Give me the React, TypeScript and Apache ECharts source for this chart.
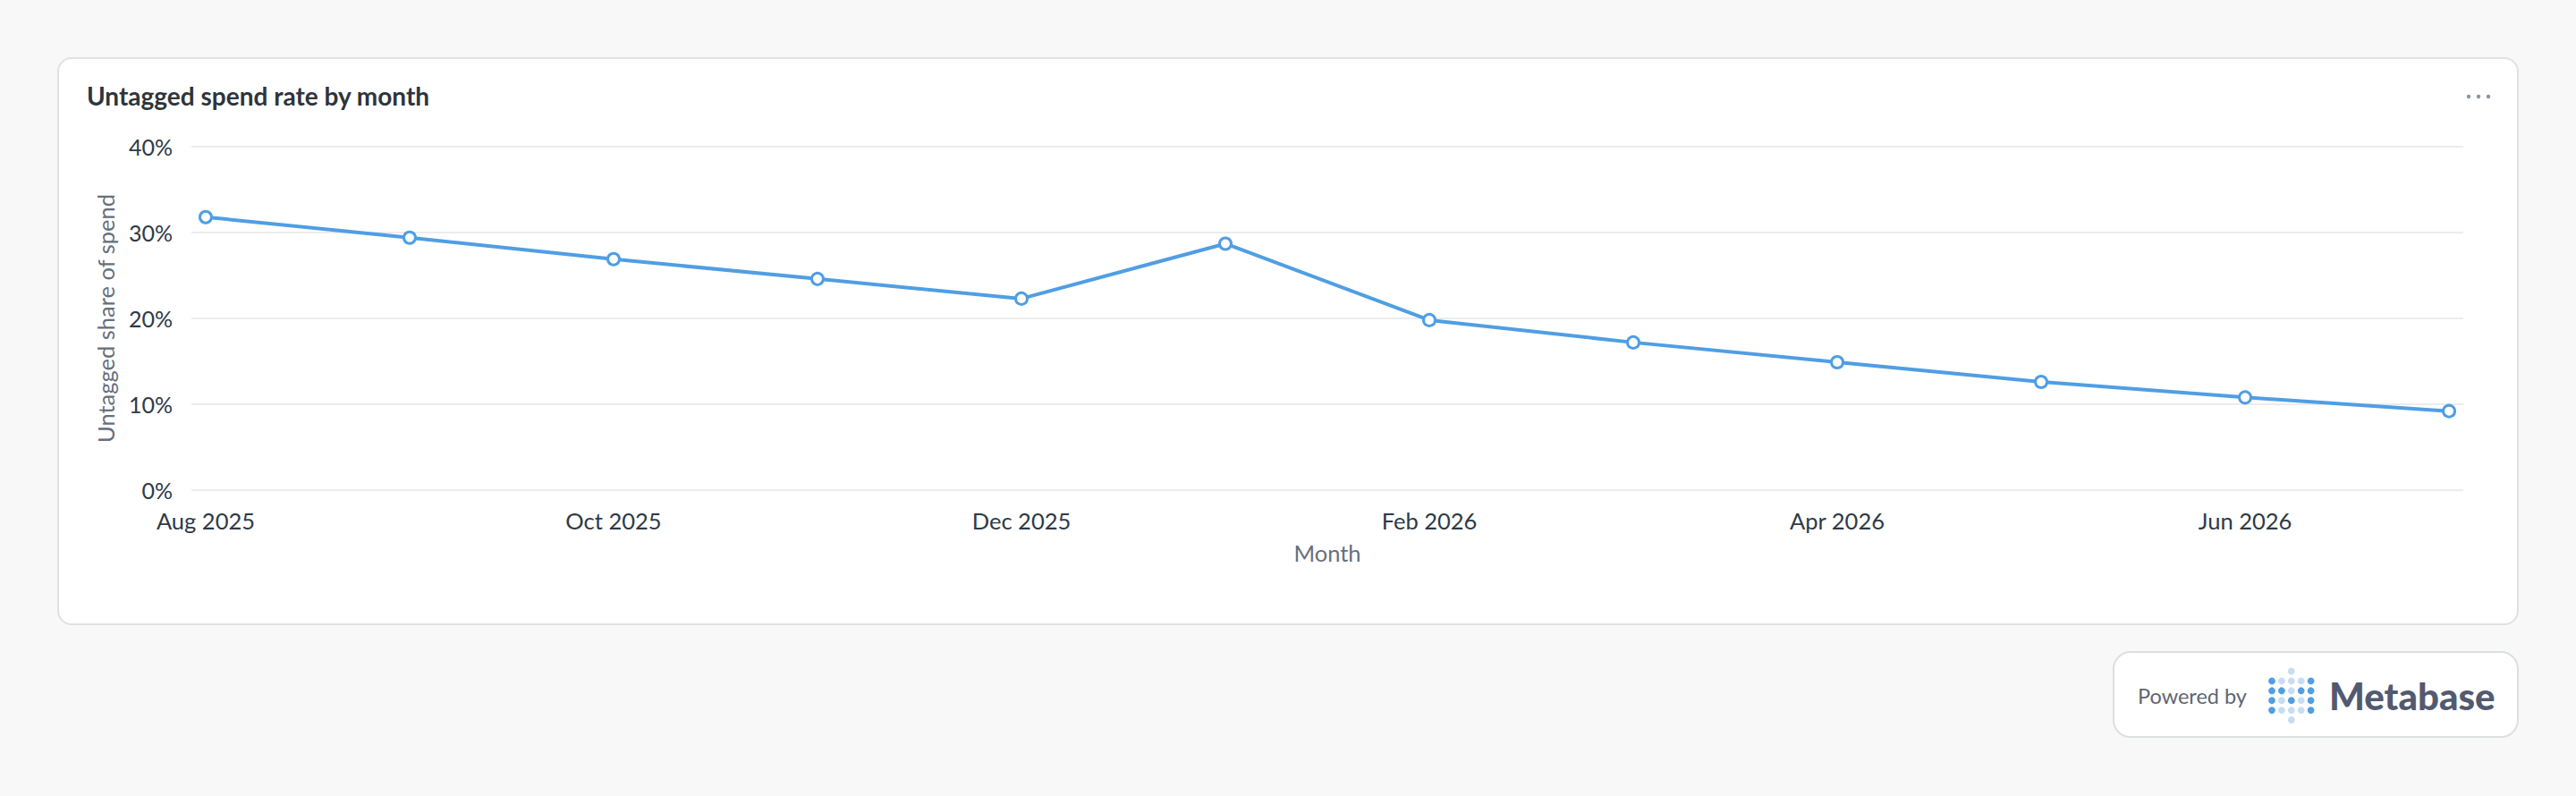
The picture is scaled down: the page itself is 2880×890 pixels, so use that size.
import * as echarts from "echarts"
import { useEffect, useRef } from "react"

// months on the x axis, one point each
const months = [
  "Aug 2025", "Sep 2025", "Oct 2025", "Nov 2025", "Dec 2025", "Jan 2026",
  "Feb 2026", "Mar 2026", "Apr 2026", "May 2026", "Jun 2026", "Jul 2026",
]
// untagged share of spend, in percent
const untaggedShare = [31.8, 29.4, 26.9, 24.6, 22.3, 28.7, 19.8, 17.2, 14.9, 12.6, 10.8, 9.2]
// which month indexes carry a label
const labelledMonths = [0, 2, 4, 6, 8, 10]

const TITLE = "Untagged spend rate by month"
const Y_NAME = "Untagged share of spend"
const X_NAME = "Month"

const BLUE = "#509EE3"
const LIGHT_BLUE = "#C7DDF3"
const FONT = "Lato, 'Noto Sans', sans-serif"

// Metabase logo dot pattern: D = dark, L = light, . = none
const LOGO_ROWS = ["..L..", "DLLLD", "DDLDD", "DLDLD", "DLLLD", "..L.."]

function logoDots(x0: number, y0: number, step: number) {
  const out: any[] = []
  LOGO_ROWS.forEach((row, r) => {
    row.split("").forEach((c, col) => {
      if (c === ".") return
      out.push({
        type: "circle",
        shape: { cx: x0 + col * step, cy: y0 + r * step, r: 3.9 },
        style: { fill: c === "D" ? BLUE : LIGHT_BLUE },
      })
    })
  })
  return out
}

export default function App(): React.ReactElement {
  const ref = useRef<HTMLDivElement>(null)

  useEffect(() => {
    const node = ref.current
    if (!node) return
    const chart = echarts.init(node, undefined, { renderer: "svg", width: 2880, height: 890 })

    chart.setOption({
      animation: false,
      backgroundColor: "transparent",
      textStyle: { fontFamily: FONT },
      title: {
        text: TITLE,
        left: 97,
        top: 93,
        padding: 0,
        textStyle: { fontFamily: FONT, fontSize: 28, fontWeight: "bold", color: "#2e353b" },
      },
      grid: { left: 214, right: 126, top: 164, bottom: 342, containLabel: false },
      xAxis: {
        type: "value",
        min: -0.07,
        max: 11.07,
        name: X_NAME,
        nameLocation: "middle",
        nameGap: 57,
        nameTextStyle: { fontFamily: FONT, fontSize: 25.5, color: "#66707c" },
        axisLine: { show: false },
        axisTick: { show: false },
        splitLine: { show: false },
        axisLabel: {
          customValues: labelledMonths,
          formatter: (v: number) => months[Math.round(v)] ?? "",
          fontFamily: FONT,
          fontSize: 25.5,
          color: "#2e3a46",
          margin: 21,
        },
      },
      yAxis: {
        type: "value",
        min: 0,
        max: 40,
        interval: 10,
        name: Y_NAME,
        nameLocation: "middle",
        nameRotate: 90,
        nameGap: 83,
        nameTextStyle: { fontFamily: FONT, fontSize: 25.5, color: "#66707c" },
        axisLine: { show: false },
        axisTick: { show: false },
        splitLine: { lineStyle: { color: "#ececee", width: 2 } },
        axisLabel: {
          formatter: (v: number) => `${v}%`,
          fontFamily: FONT,
          fontSize: 25,
          color: "#2e3a46",
          margin: 21,
        },
      },
      series: [
        {
          type: "line",
          data: untaggedShare.map((v, i) => [i, v]),
          symbol: "circle",
          symbolSize: 13,
          lineStyle: { color: BLUE, width: 4 },
          itemStyle: { color: "#ffffff", borderColor: BLUE, borderWidth: 3 },
        },
      ],
      graphic: [
        // overflow menu dots
        ...[0, 1, 2].map((i) => ({
          type: "circle",
          shape: { cx: 2760 + i * 11, cy: 108, r: 2.2 },
          style: { fill: "#8e94a4" },
        })),
        {
          type: "text",
          x: 2390,
          y: 778,
          style: {
            text: "Powered by",
            font: `23.5px ${FONT}`,
            fill: "#5f6670",
            textVerticalAlign: "middle",
          },
        },
        ...logoDots(2540, 750.5, 10.9),
        {
          type: "text",
          x: 2604,
          y: 778,
          style: {
            text: "Metabase",
            font: `900 42px ${FONT}`,
            fill: "#525a70",
            textVerticalAlign: "middle",
          },
        },
      ],
    })

    return () => chart.dispose()
  }, [])

  return (
    <div style={{ position: "fixed", left: 0, top: 0, width: 2880, height: 890, background: "#f8f8f8" }}>
      <div
        style={{
          position: "absolute", left: 64, top: 64, width: 2748, height: 631,
          background: "#fff", border: "2px solid #e0e1e3", borderRadius: 16,
        }}
      />
      <div
        style={{
          position: "absolute", left: 2362, top: 728, width: 450, height: 93,
          background: "#fff", border: "2px solid #dcdfe1", borderRadius: 20,
        }}
      />
      <div ref={ref} style={{ position: "absolute", left: 0, top: 0, width: 2880, height: 890 }} />
    </div>
  )
}
